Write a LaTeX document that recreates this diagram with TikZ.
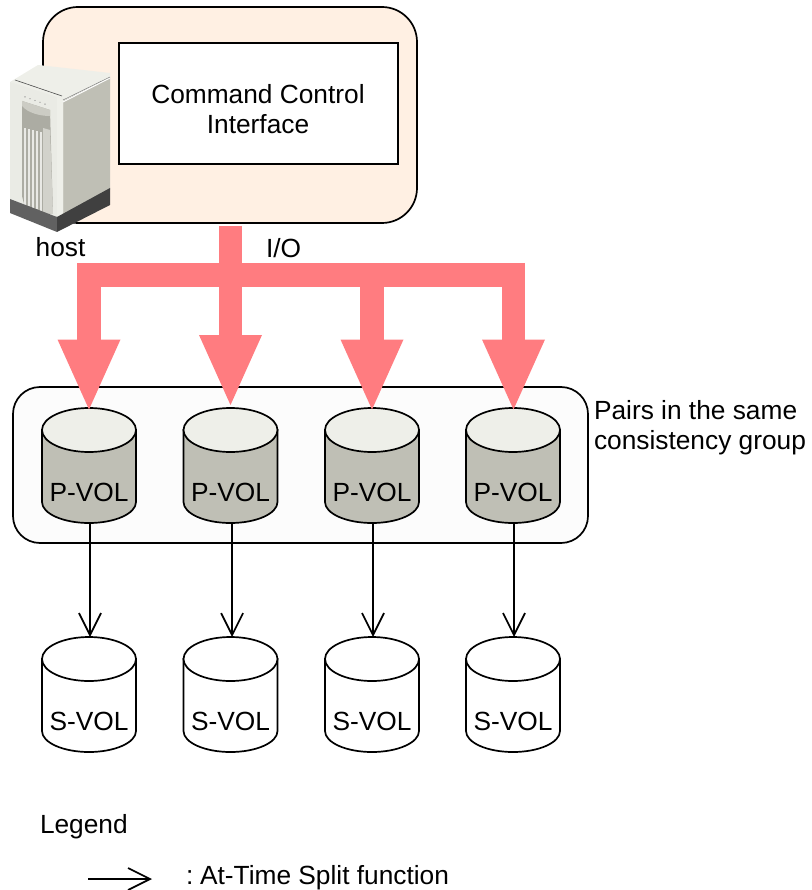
\documentclass[tikz,border=0pt]{standalone}
\usepackage{fontspec}
\setmainfont{Liberation Sans}
\usetikzlibrary{arrows.meta}
\definecolor{hostbg}{HTML}{FFF0E3}
\definecolor{ioc}{HTML}{FF7C80}
\definecolor{pbody}{HTML}{BFBFB5}
\definecolor{ptop}{HTML}{EEEFE9}
\definecolor{grpbg}{HTML}{FCFCFC}
\tikzset{
  lbl/.style={inner sep=0pt,outer sep=0pt,font=\fontsize{26.3}{30}\selectfont,text=black},
  lblL/.style={lbl,anchor=base west},
  lblC/.style={lbl,anchor=base},
  outl/.style={draw=black,line width=1.7pt},
  split/.style={draw=black,line width=1.9pt,-{Straight Barb[length=22pt,width=22pt,line width=1.7pt]}},
  iobar/.style={draw=ioc,line width=23.5pt,line cap=butt},
  ioarrow/.style={iobar,-{Triangle[length=70pt,width=63pt,line width=0pt]}},
}
% #1 name, #2 centre x, #3 ellipse centre y, #4 body colour, #5 top colour, #6 text
\newcommand{\volcyl}[6]{%
  \path[fill=#4,outl] (#2-47,#3) -- (#2-47,#3+72) arc[start angle=180,end angle=0,x radius=47,y radius=21] -- (#2+47,#3) -- cycle;
  \path[fill=#5,outl] (#2,#3) ellipse[x radius=47,y radius=22];
  \node[lblC] (#1) at (#2,#3+71) {#6};
  \coordinate (#1t) at (#2+1,#3-22);
  \coordinate (#1b) at (#2+1,#3+93);
}
\begin{document}
\begin{tikzpicture}[x=1pt,y=-1pt]
\useasboundingbox (0,0) rectangle (811,890);
% host box
\node[outl,fill=hostbg,rounded corners=35pt,minimum width=374pt,minimum height=216pt,inner sep=0pt,outer sep=0pt] (hostbox) at (230,115) {};
\node[outl,fill=white,minimum width=279pt,minimum height=121pt,inner sep=0pt,outer sep=0pt] (cci) at (258.5,103.5) {};
\node[lblC] (cci1) at (258,104) {Command Control};
\node[lblC] (cci2) at (258,134) {Interface};
% server
\fill[ptop] (10,82) -- (38,65) -- (110,73) -- (110,80) -- (63,104) -- cycle;
\fill[pbody] (63,101) -- (110,78) -- (110,190) -- (63,217) -- cycle;
\fill[ptop!92!pbody] (10,82) -- (63,99) -- (63,217) -- (57,217) -- (10,199) -- cycle;
\fill[ptop] (57,97) -- (63,99) -- (63,217) -- (57,217) -- cycle;
\draw[black!70,line width=0.6pt] (15,80) -- (62,96);
\draw[white,line width=0.9pt] (63,102) -- (110,78);
\draw[black!50,line width=0.5pt] (63,100) -- (110,77);
% front panel
\fill[pbody!90!black] (22,101) -- (50,110) -- (53,214) -- (44,213) -- (30,208) -- (24,204) -- (22,196) -- cycle;
\fill[pbody!80!white] (22,101) -- (50,110) -- (50,116) .. controls (40,116) and (28,113) .. (22,106) -- cycle;
\fill[pbody!70!white] (43,128) -- (50,130) -- (53,214) -- (43,213) -- cycle;
\foreach \gx in {25,29,33,37,41}{
  \draw[white!65!pbody,line width=1.1pt] (\gx,122+\gx/4) -- (\gx,195+\gx/2.6);
}
\foreach \dx in {25,30,35,40,45}{
  \fill[black!45] (\dx,88+\dx/2.8) circle[radius=0.7];
}
\fill[black!62] (10,199) -- (57,217) -- (57,232) -- (10,213) -- cycle;
\fill[black!75] (57,217) -- (110,188) -- (110,205) -- (57,232) -- cycle;
\node[lblC] (hostl) at (60.5,257) {host};
% I/O arrows
\coordinate (tr) at (230.5,226);
\coordinate (bl) at (77.5,275);
\coordinate (br) at (525,275);
\draw[iobar] (tr) -- (230.5,275);
\draw[iobar] (bl) -- (br);
% group
\node[outl,fill=grpbg,rounded corners=27pt,minimum width=575pt,minimum height=156pt,inner sep=0pt,outer sep=0pt] (grp) at (300.5,465) {};
\node[lblL] (grpa) at (594,419) {Pairs in the same};
\node[lblL] (grpb) at (594,449) {consistency group};
% volumes
\foreach \n/\x in {1/89,2/230.5,3/372,4/513}{
  \volcyl{p\n}{\x}{430}{pbody}{ptop}{P-VOL}
  \volcyl{s\n}{\x}{659}{white}{white}{S-VOL}
}
\foreach \n/\x/\ty/\sh in {1/89/409.5/0pt,2/230.5/405/0.6pt,3/372/409.5/0pt,4/513.5/409.5/0pt}{
  \coordinate (h\n) at (\x,\ty);
  \draw[ioarrow] (\x,263) -- (h\n);
  \draw[split] ([xshift=\sh]p\n b) -- ([xshift=\sh]s\n t);
}
% legend
\node[lblL] (leg) at (40,833) {Legend};
\coordinate (la) at (88,879);
\coordinate (lb) at (152,879);
\draw[split] (la) -- (lb);
\node[lblL] (legt) at (186,884) {:\kern-3pt{} At-Time Split function};
\node[lblL] (io) at (266,258) {I/O};
\end{tikzpicture}
\end{document}
